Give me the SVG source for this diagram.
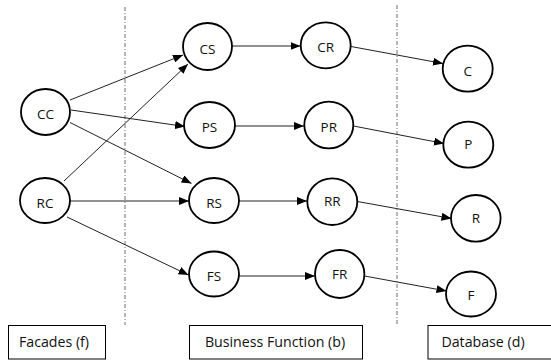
<svg xmlns="http://www.w3.org/2000/svg" width="551" height="360" viewBox="0 0 551 360">
  <style>
    .node ellipse { fill: #fff; stroke: #000; stroke-width: 1.8; }
    text { font-family: "Open Sans", "Liberation Sans", sans-serif; font-size: 13.5px; fill: #111; text-anchor: middle; }
    .label text { font-size: 14.2px; }
    .edge { stroke: #222; stroke-width: 1; fill: none; marker-end: url(#arrow); }
    .divider { stroke: #888; stroke-width: 1.2; stroke-dasharray: 4 2 1 2; }
    .label rect { fill: #fff; stroke: #000; stroke-width: 1; }
  </style>
  <defs>
    <marker id="arrow" markerWidth="10" markerHeight="8" refX="10" refY="4" orient="auto" markerUnits="userSpaceOnUse">
      <path d="M0,0 L10,4 L0,8 Z" fill="#000"/>
    </marker>
  </defs>
  <rect width="551" height="360" fill="#fff"/>

  <!-- column dividers -->
  <line class="divider" x1="125" y1="7" x2="125" y2="325"/>
  <line class="divider" x1="397" y1="5" x2="397" y2="325"/>

  <!-- connectors -->
  <g id="edges">
    <line class="edge" x1="70" y1="100" x2="183" y2="55"/>
    <line class="edge" x1="71" y1="110" x2="185" y2="126.5"/>
    <line class="edge" x1="70" y1="122.5" x2="191.5" y2="183.5"/>
    <line class="edge" x1="64" y1="181" x2="188" y2="64"/>
    <line class="edge" x1="70" y1="201" x2="189" y2="201"/>
    <line class="edge" x1="67" y1="217" x2="188.5" y2="275"/>
    <line class="edge" x1="232" y1="46" x2="300.5" y2="46"/>
    <line class="edge" x1="235" y1="126" x2="304" y2="126"/>
    <line class="edge" x1="239" y1="201" x2="307" y2="201"/>
    <line class="edge" x1="239" y1="276" x2="315" y2="276"/>
    <line class="edge" x1="351" y1="46.5" x2="443" y2="63.5"/>
    <line class="edge" x1="353.5" y1="126" x2="444" y2="143.5"/>
    <line class="edge" x1="357.5" y1="201.5" x2="451.5" y2="218.5"/>
    <line class="edge" x1="364.5" y1="276" x2="446.5" y2="291"/>
  </g>

  <!-- facade nodes -->
  <g id="CC" class="node"><ellipse cx="45.5" cy="112" rx="24.5" ry="23"/><text x="45.5" y="119">CC</text></g>
  <g id="RC" class="node"><ellipse cx="45" cy="200.5" rx="25" ry="22.5"/><text x="45" y="207.5">RC</text></g>

  <!-- service nodes -->
  <g id="CS" class="node"><ellipse cx="207.5" cy="46.5" rx="24.5" ry="23.5"/><text x="207.5" y="53.5">CS</text></g>
  <g id="PS" class="node"><ellipse cx="209.5" cy="125" rx="25.5" ry="23"/><text x="209.5" y="132">PS</text></g>
  <g id="RS" class="node"><ellipse cx="214" cy="200.5" rx="25" ry="22.5"/><text x="214" y="207.5">RS</text></g>
  <g id="FS" class="node"><ellipse cx="214" cy="274" rx="25" ry="22.5"/><text x="214" y="281">FS</text></g>

  <!-- repository nodes -->
  <g id="CR" class="node"><ellipse cx="325.7" cy="45.3" rx="25" ry="23"/><text x="325.7" y="52.3">CR</text></g>
  <g id="PR" class="node"><ellipse cx="328.8" cy="125" rx="24.5" ry="23.3"/><text x="328.8" y="132">PR</text></g>
  <g id="RR" class="node"><ellipse cx="332.3" cy="201.7" rx="25" ry="23.3"/><text x="332.3" y="205.5">RR</text></g>
  <g id="FR" class="node"><ellipse cx="339.7" cy="274" rx="24.7" ry="24"/><text x="339.7" y="279">FR</text></g>

  <!-- database nodes -->
  <g id="C" class="node"><ellipse cx="467.7" cy="68.7" rx="25" ry="23"/><text x="467.7" y="75.5">C</text></g>
  <g id="P" class="node"><ellipse cx="468.3" cy="144.7" rx="25" ry="23"/><text x="468.3" y="149">P</text></g>
  <g id="R" class="node"><ellipse cx="475.8" cy="218.3" rx="24.8" ry="23.3"/><text x="475.8" y="222.5">R</text></g>
  <g id="F" class="node"><ellipse cx="471" cy="294" rx="25" ry="22.5"/><text x="471" y="300">F</text></g>

  <!-- layer captions -->
  <g id="facades" class="label"><rect x="8.5" y="325.5" width="97" height="33.5"/><text x="54" y="347">Facades (f)</text></g>
  <g id="business" class="label"><rect x="189.5" y="325.5" width="173" height="33.5"/><text x="275" y="347">Business Function (b)</text></g>
  <g id="database" class="label"><rect x="428" y="325.5" width="126" height="33.5"/><text x="483" y="347">Database (d)</text></g>
</svg>
